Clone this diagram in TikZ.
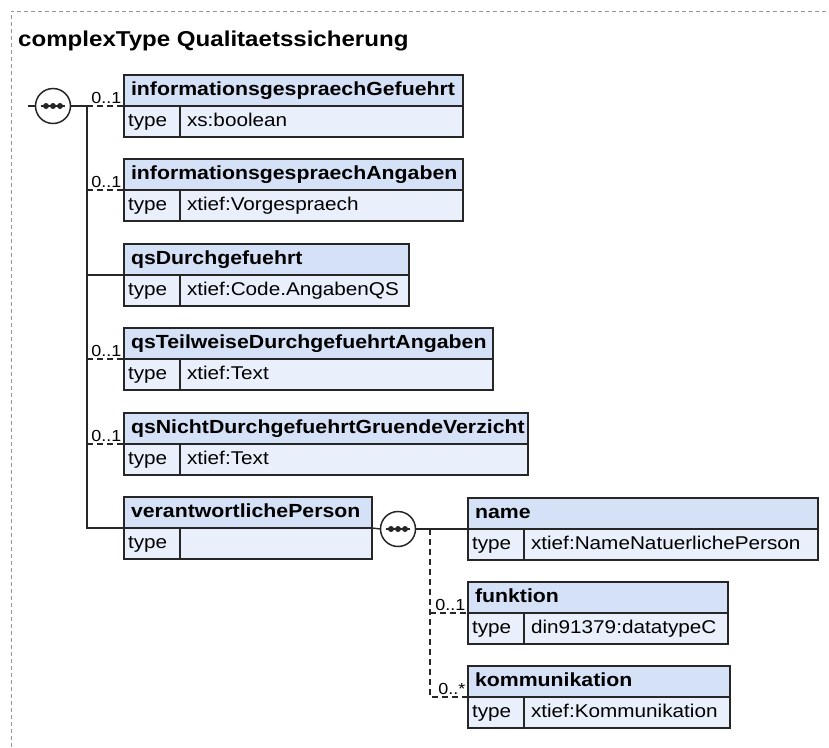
\documentclass[tikz,border=0pt]{standalone}
\usepackage{fontspec}
\setmainfont{Liberation Sans}[FakeStretch=1.12]
\usetikzlibrary{positioning, calc}

\definecolor{hdrblue}{RGB}{213,225,246}
\definecolor{bodyblue}{RGB}{233,240,251}
\definecolor{framegray}{RGB}{150,150,150}

\begin{document}
\begin{tikzpicture}[
  x=1pt, y=-1pt,
  frame/.style={draw=framegray, line width=0.9pt, dash pattern=on 4pt off 3pt},
  title/.style={font=\bfseries\fontsize{21.5}{24}\selectfont, inner sep=0pt},
  hdr/.style={draw=black!85, line width=1.6pt, fill=hdrblue, anchor=north west,
              font=\bfseries\fontsize{19}{22}\selectfont, text width=#1, align=left,
              inner xsep=7pt, inner ysep=2pt, outer sep=0pt, minimum height=31pt,
              text height=14pt, text depth=4pt},
  tcell/.style={draw=black!85, line width=1.6pt, fill=bodyblue, anchor=north west,
                font=\fontsize{18.5}{21}\selectfont, text width=48pt, align=left,
                inner xsep=4pt, inner ysep=2pt, outer sep=0pt, minimum height=31pt,
                text height=14pt, text depth=4pt},
  vcell/.style={tcell, text width=#1, inner xsep=7pt},
  seq/.style={circle, draw=black!85, fill=white, line width=1.5pt, minimum size=35pt,
              inner sep=0pt, outer sep=0pt},
  conn/.style={draw=black!85, line width=1.4pt},
  opt/.style={conn, dash pattern=on 6pt off 4pt},
  card/.style={font=\fontsize{16}{18}\selectfont, inner sep=0pt, anchor=base east,
               xshift=-2pt, yshift=3pt}
]
  \useasboundingbox (0,0) rectangle (829,747);

  % Frame and title
  \draw[frame] (11,747) -- (11,11) -- (829,11);
  \node[title, anchor=base west] (title) at (18,46) {complexType Qualitaetssicherung};

  % Sequence of Qualitaetssicherung
  \coordinate (in1) at (28,106);
  \node[seq] (seq1) at (53,106) {};
  \draw[conn] ($(seq1)+(-12,0)$) -- ($(seq1)+(12,0)$);
  \foreach \d in {-7,0,7} \fill[black!85] ($(seq1)+(\d,0)$) circle (3pt);
  \coordinate (fork1) at (87,106);

  % Elements
  \node[hdr=325pt] (gefuehrt) at (124,75) {informationsgespraechGefuehrt};
  \node[tcell] (gefuehrt-t) at (gefuehrt.south west) {type};
  \node[vcell=269pt] (gefuehrt-v) at (gefuehrt-t.north east) {xs:boolean};

  \node[hdr=325pt] (angaben) at (124,159) {informationsgespraechAngaben};
  \node[tcell] (angaben-t) at (angaben.south west) {type};
  \node[vcell=269pt] (angaben-v) at (angaben-t.north east) {xtief:Vorgespraech};

  \node[hdr=271pt] (qsdurch) at (124,244) {qsDurchgefuehrt};
  \node[tcell] (qsdurch-t) at (qsdurch.south west) {type};
  \node[vcell=215pt] (qsdurch-v) at (qsdurch-t.north east) {xtief:Code.AngabenQS};

  \node[hdr=355pt] (qsteil) at (124,328) {qsTeilweiseDurchgefuehrtAngaben};
  \node[tcell] (qsteil-t) at (qsteil.south west) {type};
  \node[vcell=299pt] (qsteil-v) at (qsteil-t.north east) {xtief:Text};

  \node[hdr=390pt] (qsnicht) at (124,413) {qsNichtDurchgefuehrtGruendeVerzicht};
  \node[tcell] (qsnicht-t) at (qsnicht.south west) {type};
  \node[vcell=334pt] (qsnicht-v) at (qsnicht-t.north east) {xtief:Text};

  \node[hdr=234pt] (person) at (124,497) {verantwortlichePerson};
  \node[tcell] (person-t) at (person.south west) {type};
  \node[vcell=178pt] (person-v) at (person-t.north east) {};

  % Connectors of the first sequence
  \draw[conn] (in1) -- (seq1.west);
  \draw[conn] (seq1.east) -- (fork1) -- (fork1 |- person.south west) -- (person.south west);
  \draw[conn] (fork1 |- qsdurch.south west) -- (qsdurch.south west);
  \draw[opt] (fork1) -- (gefuehrt.south west) node[card, pos=1] {0..1};
  \draw[opt] (fork1 |- angaben.south west) -- (angaben.south west) node[card, pos=1] {0..1};
  \draw[opt] (fork1 |- qsteil.south west) -- (qsteil.south west) node[card, pos=1] {0..1};
  \draw[opt] (fork1 |- qsnicht.south west) -- (qsnicht.south west) node[card, pos=1] {0..1};

  % Sequence of verantwortlichePerson
  \node[seq] (seq2) at (398,529) {};
  \draw[conn] ($(seq2)+(-12,0)$) -- ($(seq2)+(12,0)$);
  \foreach \d in {-7,0,7} \fill[black!85] ($(seq2)+(\d,0)$) circle (3pt);
  \coordinate (fork2) at (430,529);

  \node[hdr=336pt] (name) at (468,498) {name};
  \node[tcell] (name-t) at (name.south west) {type};
  \node[vcell=280pt] (name-v) at (name-t.north east) {xtief:NameNatuerlichePerson};

  \node[hdr=246pt] (funktion) at (468,582) {funktion};
  \node[tcell] (funktion-t) at (funktion.south west) {type};
  \node[vcell=190pt] (funktion-v) at (funktion-t.north east) {din91379:datatypeC};

  \node[hdr=248pt] (komm) at (468,666) {kommunikation};
  \node[tcell] (komm-t) at (komm.south west) {type};
  \node[vcell=192pt] (komm-v) at (komm-t.north east) {xtief:Kommunikation};

  % Connectors of the second sequence
  \draw[conn] (person.south east) -- (seq2.west);
  \draw[conn] (seq2.east) -- (name.south west);
  \draw[opt] (fork2) -- (fork2 |- komm.south west) -- (komm.south west) node[card, pos=1] {0..*};
  \draw[opt] (fork2 |- funktion.south west) -- (funktion.south west) node[card, pos=1] {0..1};
\end{tikzpicture}
\end{document}
